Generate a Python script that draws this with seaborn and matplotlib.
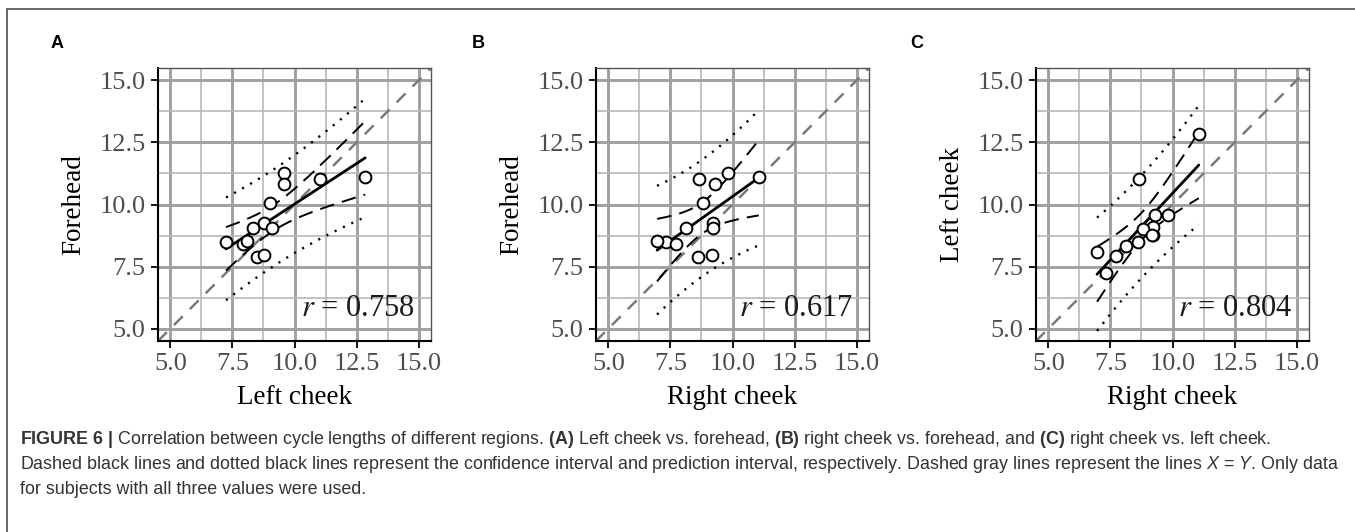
import numpy as np
import pandas as pd
import matplotlib
matplotlib.use("Agg")
import matplotlib.pyplot as plt
import seaborn as sns
from matplotlib.lines import Line2D
from matplotlib.ticker import MultipleLocator, FixedLocator

# ---------------- data ----------------
left_cheek = [7.24, 7.91, 8.09, 8.33, 8.76, 9.08, 9.02, 8.48, 8.78, 9.58, 9.58, 11.02, 12.85]
right_cheek = [7.33, 7.72, 6.96, 8.13, 9.22, 9.22, 8.81, 8.62, 9.18, 9.82, 9.31, 8.64, 11.06]
forehead = [8.47, 8.40, 8.53, 9.04, 9.24, 9.04, 10.07, 7.88, 7.95, 11.28, 10.82, 11.02, 11.10]

panel_letters = ["A", "B", "C"]
x_names = ["Left cheek", "Right cheek", "Right cheek"]
y_names = ["Forehead", "Forehead", "Left cheek"]
r_labels = ["0.758", "0.617", "0.804"]
tick_values = [5.0, 7.5, 10.0, 12.5, 15.0]
tick_labels = ["5.0", "7.5", "10.0", "12.5", "15.0"]

caption_lines = [
    r"$\mathbf{FIGURE\ 6\ |}$ Correlation between cycle lengths of different regions. "
    r"$\mathbf{(A)}$ Left cheek vs. forehead, $\mathbf{(B)}$ right cheek vs. forehead, "
    r"and $\mathbf{(C)}$ right cheek vs. left cheek.",
    r"Dashed black lines and dotted black lines represent the confidence interval and "
    r"prediction interval, respectively. Dashed gray lines represent the lines "
    r"$\mathit{X}$ = $\mathit{Y}$. Only data",
    r"for subjects with all three values were used.",
]

df = pd.DataFrame({"Left cheek": left_cheek, "Right cheek": right_cheek, "Forehead": forehead})

# ---------------- style ----------------
sns.set_theme(style="white")
plt.rcParams["font.family"] = ["Liberation Serif", "DejaVu Serif"]
plt.rcParams["mathtext.fontset"] = "custom"
plt.rcParams["mathtext.rm"] = "Liberation Sans"
plt.rcParams["mathtext.it"] = "Liberation Sans:italic"
plt.rcParams["mathtext.bf"] = "Liberation Sans:bold"

W, H = 1355, 532
fig = plt.figure(figsize=(W / 100, H / 100), dpi=100)
fig.patch.set_facecolor("white")

ax_left_px = [158, 596, 1036]
ax_w_px, ax_top_px, ax_bot_px = 273, 68, 341
T975 = 2.200985  # t quantile, df = n - 2 = 11


def bands(x, y):
    x = np.asarray(x, float)
    y = np.asarray(y, float)
    n = len(x)
    b1, b0 = np.polyfit(x, y, 1)
    xs = np.linspace(x.min(), x.max(), 200)
    yh = b0 + b1 * xs
    s = np.sqrt(np.sum((y - (b0 + b1 * x)) ** 2) / (n - 2))
    sxx = np.sum((x - x.mean()) ** 2)
    se_m = s * np.sqrt(1 / n + (xs - x.mean()) ** 2 / sxx)
    se_p = s * np.sqrt(1 + 1 / n + (xs - x.mean()) ** 2 / sxx)
    return xs, yh - T975 * se_m, yh + T975 * se_m, yh - T975 * se_p, yh + T975 * se_p


for i in range(3):
    left = ax_left_px[i] / W
    bottom = 1 - ax_bot_px / H
    ax = fig.add_axes([left, bottom, ax_w_px / W, (ax_bot_px - ax_top_px) / H])
    xcol, ycol = x_names[i], y_names[i]

    ax.set_xlim(4.5, 15.5)
    ax.set_ylim(4.5, 15.5)
    ax.xaxis.set_major_locator(FixedLocator(tick_values))
    ax.yaxis.set_major_locator(FixedLocator(tick_values))
    ax.xaxis.set_minor_locator(MultipleLocator(1.25))
    ax.yaxis.set_minor_locator(MultipleLocator(1.25))
    ax.set_xticklabels(tick_labels)
    ax.set_yticklabels(tick_labels)
    ax.set_axisbelow(True)
    ax.grid(which="major", color="#a0a0a0", lw=2.1)
    ax.grid(which="minor", color="#b8b8b8", lw=1.2)

    # identity line
    ax.plot([4.5, 15.5], [4.5, 15.5], color="#7a7a7a", lw=1.8, dashes=(5, 4), zorder=2)

    xs, cl, cu, pl, pu = bands(df[xcol], df[ycol])
    for yy in (pl, pu):
        ax.plot(xs, yy, color="black", lw=1.7, dashes=(0.9, 3.0), zorder=3)
    for yy in (cl, cu):
        ax.plot(xs, yy, color="black", lw=1.4, dashes=(7.5, 4.2), zorder=3)

    sns.regplot(data=df, x=xcol, y=ycol, ax=ax, scatter=False, ci=None,
                color="black", line_kws={"lw": 2.0, "zorder": 4})
    sns.scatterplot(data=df, x=xcol, y=ycol, ax=ax, marker="o", s=72,
                    facecolor="white", edgecolor="black", linewidth=1.4, zorder=5)

    ax.set_xlim(4.5, 15.5)
    ax.set_ylim(4.5, 15.5)
    ax.set_xlabel(xcol, fontsize=19.5, color="black", labelpad=7)
    ax.set_ylabel(ycol, fontsize=19.5, color="black", labelpad=9)
    ax.tick_params(which="major", length=5, width=1.3, color="black",
                   labelsize=19, labelcolor="#4d4d4d", pad=4,
                   bottom=True, left=True)
    ax.tick_params(which="minor", length=0)
    for side in ("left", "bottom"):
        ax.spines[side].set_color("black")
        ax.spines[side].set_linewidth(1.5)
    for side in ("top", "right"):
        ax.spines[side].set_color("#555555")
        ax.spines[side].set_linewidth(1.0)

    ax.text(0.941, 0.092, r"$r$ = " + r_labels[i], transform=ax.transAxes,
            ha="right", va="baseline", fontsize=22, color="#1a1a1a",
            math_fontfamily="stix", zorder=6)

    letter_x = [57, 478, 917][i]
    fig.text(letter_x / W, 1 - 48 / H, panel_letters[i], ha="center", va="baseline",
             fontsize=13, fontweight="bold", family="Liberation Sans", color="black")

# frame lines (top and left)
fig.add_artist(Line2D([7 / W, 1.0], [1 - 9 / H, 1 - 9 / H], transform=fig.transFigure,
                      color="#666666", lw=1.4))
fig.add_artist(Line2D([7 / W, 7 / W], [0.0, 1 - 9 / H], transform=fig.transFigure,
                      color="#666666", lw=1.4))

# caption
for k, line in enumerate(caption_lines):
    fig.text(20 / W, 1 - [444, 469, 494][k] / H, line, ha="left", va="baseline",
             fontsize=12.9, family="Liberation Sans", color="#333333",
             math_fontfamily="custom")

fig.savefig("out.png", dpi=100, facecolor="white")
